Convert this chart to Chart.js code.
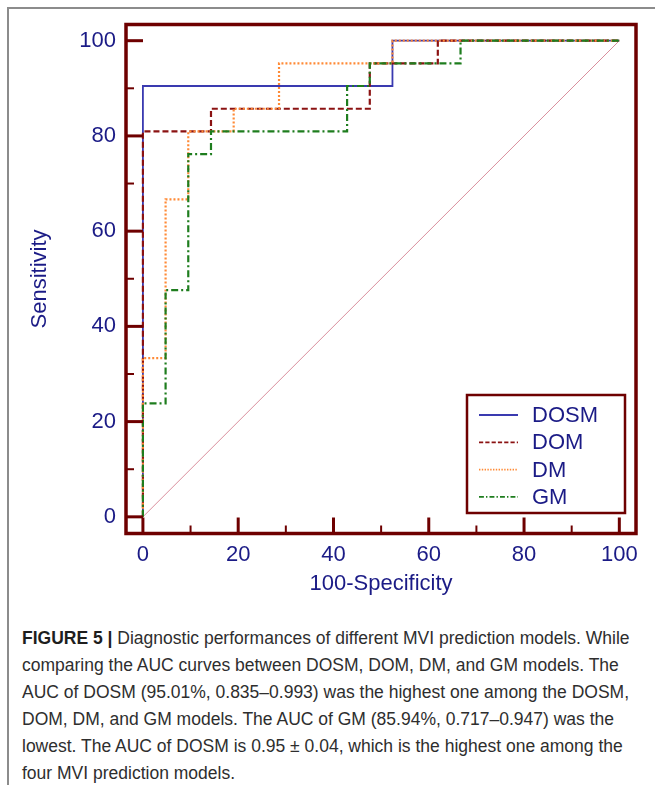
<!DOCTYPE html>
<html>
<head>
<meta charset="utf-8">
<script src="https://cdn.jsdelivr.net/npm/chart.js@4.4.1/dist/chart.umd.min.js"></script>
<style>
    html, body { margin: 0; padding: 0; background: #fff; }
    body { width: 655px; height: 785px; position: relative; overflow: hidden; }
    .frame { position: absolute; left: 7px; top: 7px; width: 660px; height: 790px;
             border-left: 2px solid #8c8c8c; border-top: 2px solid #8c8c8c; }
    .chart-box { position: absolute; left: 0; top: 0; width: 655px; height: 605px; }
    .caption { position: absolute; left: 22px; top: 625px; font-family: 'Liberation Sans', Arial, sans-serif;
               font-size: 17.5px; line-height: 27px; color: #2e2e2e; white-space: nowrap; }
    .caption b { color: #1e1e1e; }
</style>
</head>
<body>
<div class="frame"></div>
<div class="chart-box"><canvas id="roc"></canvas></div>
<div class="caption">
    <div><b>FIGURE 5 |</b> Diagnostic performances of different MVI prediction models. While</div>
    <div>comparing the AUC curves between DOSM, DOM, DM, and GM models. The</div>
    <div>AUC of DOSM (95.01%, 0.835–0.993) was the highest one among the DOSM,</div>
    <div>DOM, DM, and GM models. The AUC of GM (85.94%, 0.717–0.947) was the</div>
    <div>lowest. The AUC of DOSM is 0.95 ± 0.04, which is the highest one among the</div>
    <div>four MVI prediction models.</div>
</div>
<script>
// ROC vertices (100-Specificity, Sensitivity), drawn as steps
const dosmX = [0, 0, 52.38, 100];
const dosmY = [0, 90.48, 100, 100];
const domX = [0, 0, 14.29, 47.62, 61.90, 100];
const domY = [0, 80.95, 85.71, 95.24, 100, 100];
const dmX = [0, 0, 4.76, 9.52, 19.05, 28.57, 52.38, 100];
const dmY = [0, 33.33, 66.67, 80.95, 85.71, 95.24, 100, 100];
const gmX = [0, 0, 4.76, 9.52, 14.29, 42.86, 47.62, 66.67, 100];
const gmY = [0, 23.81, 47.62, 76.19, 80.95, 90.48, 95.24, 100, 100];
const refX = [0, 100];
const refY = [0, 100];

const xTicks = [0, 20, 40, 60, 80, 100];
const yTicks = [0, 20, 40, 60, 80, 100];
const minorTicks = [10, 30, 50, 70, 90];
const legendLabels = ['DOSM', 'DOM', 'DM', 'GM'];

const axisRed = '#6e0000';
const navy = '#1b1b86';
const font = "'Liberation Sans', Arial, sans-serif";

const pts = (xs, ys) => xs.map((x, i) => ({ x: x, y: ys[i] }));

const curves = [
    { label: 'DOSM', data: pts(dosmX, dosmY), borderColor: '#3a3ab0', borderWidth: 1.8, borderDash: [], order: 3 },
    { label: 'DOM', data: pts(domX, domY), borderColor: '#8b1212', borderWidth: 2.2, borderDash: [6, 3], order: 2 },
    { label: 'DM', data: pts(dmX, dmY), borderColor: '#ff8a36', borderWidth: 2.2, borderDash: [2, 2], order: 1 },
    { label: 'GM', data: pts(gmX, gmY), borderColor: '#1e7d1e', borderWidth: 2.2, borderDash: [7, 3, 2, 3], order: 0 }
];

// box, inward ticks and legend drawn from the scales
const frameBox = {
    id: 'frameBox',
    afterDraw(chart) {
        const { ctx, chartArea: a, scales: { x, y } } = chart;
        ctx.save();
        ctx.strokeStyle = axisRed;
        ctx.lineCap = 'butt';

        yTicks.forEach(v => {
            const py = y.getPixelForValue(v);
            ctx.lineWidth = 3;
            ctx.beginPath(); ctx.moveTo(a.left, py); ctx.lineTo(a.left + 17, py); ctx.stroke();
        });
        xTicks.forEach(v => {
            const px = x.getPixelForValue(v);
            ctx.lineWidth = 3;
            ctx.beginPath(); ctx.moveTo(px, a.bottom); ctx.lineTo(px, a.bottom - 16); ctx.stroke();
        });
        minorTicks.forEach(v => {
            const py = y.getPixelForValue(v);
            const px = x.getPixelForValue(v);
            ctx.lineWidth = 2;
            ctx.beginPath(); ctx.moveTo(a.left, py); ctx.lineTo(a.left + 8, py); ctx.stroke();
            ctx.beginPath(); ctx.moveTo(px, a.bottom); ctx.lineTo(px, a.bottom - 8); ctx.stroke();
        });

        ctx.lineWidth = 3.5;
        ctx.strokeRect(a.left, a.top, a.right - a.left, a.bottom - a.top);

        // legend
        const lx = a.right - 169, ly = a.bottom - 138.5;
        ctx.lineWidth = 2.5;
        ctx.strokeRect(lx, ly, 158, 118);
        ctx.font = '22px ' + font;
        ctx.textBaseline = 'middle';
        ctx.fillStyle = navy;
        legendLabels.forEach((name, i) => {
            const ds = curves.find(c => c.label === name);
            const ry = ly + 20 + i * 27.3;
            ctx.strokeStyle = ds.borderColor;
            ctx.lineWidth = 1.8;
            ctx.setLineDash(ds.borderDash.length ? ds.borderDash.map(d => d * 0.7) : []);
            ctx.beginPath(); ctx.moveTo(lx + 12, ry); ctx.lineTo(lx + 51, ry); ctx.stroke();
            ctx.setLineDash([]);
            ctx.fillText(name, lx + 65, ry + 1);
        });
        ctx.restore();
    }
};

new Chart(document.getElementById('roc').getContext('2d'), {
    type: 'line',
    data: {
        datasets: [
            { label: 'ref', data: pts(refX, refY), borderColor: '#d98e9c', borderWidth: 1, order: 4 },
            ...curves.map(c => Object.assign({}, c, { stepped: 'before' }))
        ]
    },
    options: {
        responsive: true,
        maintainAspectRatio: false,
        animation: false,
        events: [],
        elements: { point: { radius: 0 }, line: { fill: false, tension: 0 } },
        layout: { padding: { top: 24.5, right: 19, left: 0, bottom: 0 } },
        plugins: { legend: { display: false }, tooltip: { enabled: false } },
        scales: {
            x: {
                type: 'linear',
                min: -3.55,
                max: 103.5,
                grid: { display: false, drawTicks: false },
                border: { display: false },
                afterBuildTicks: s => { s.ticks = xTicks.map(v => ({ value: v })); },
                afterFit: s => { s.height = 71.5; },
                ticks: { color: navy, padding: 8, font: { family: font, size: 22 } },
                title: { display: true, text: '100-Specificity', color: navy, padding: { top: 0, bottom: 8 },
                         font: { family: font, size: 22 } }
            },
            y: {
                type: 'linear',
                min: -3.5,
                max: 103.4,
                grid: { display: false, drawTicks: false },
                border: { display: false },
                afterBuildTicks: s => { s.ticks = yTicks.map(v => ({ value: v })); },
                afterFit: s => { s.width = 126; },
                ticks: { color: navy, padding: 10, font: { family: font, size: 22 } },
                title: { display: true, text: 'Sensitivity', color: navy, padding: { top: 27, bottom: 0 },
                         font: { family: font, size: 22 } }
            }
        }
    },
    plugins: [frameBox]
});
</script>
</body>
</html>
